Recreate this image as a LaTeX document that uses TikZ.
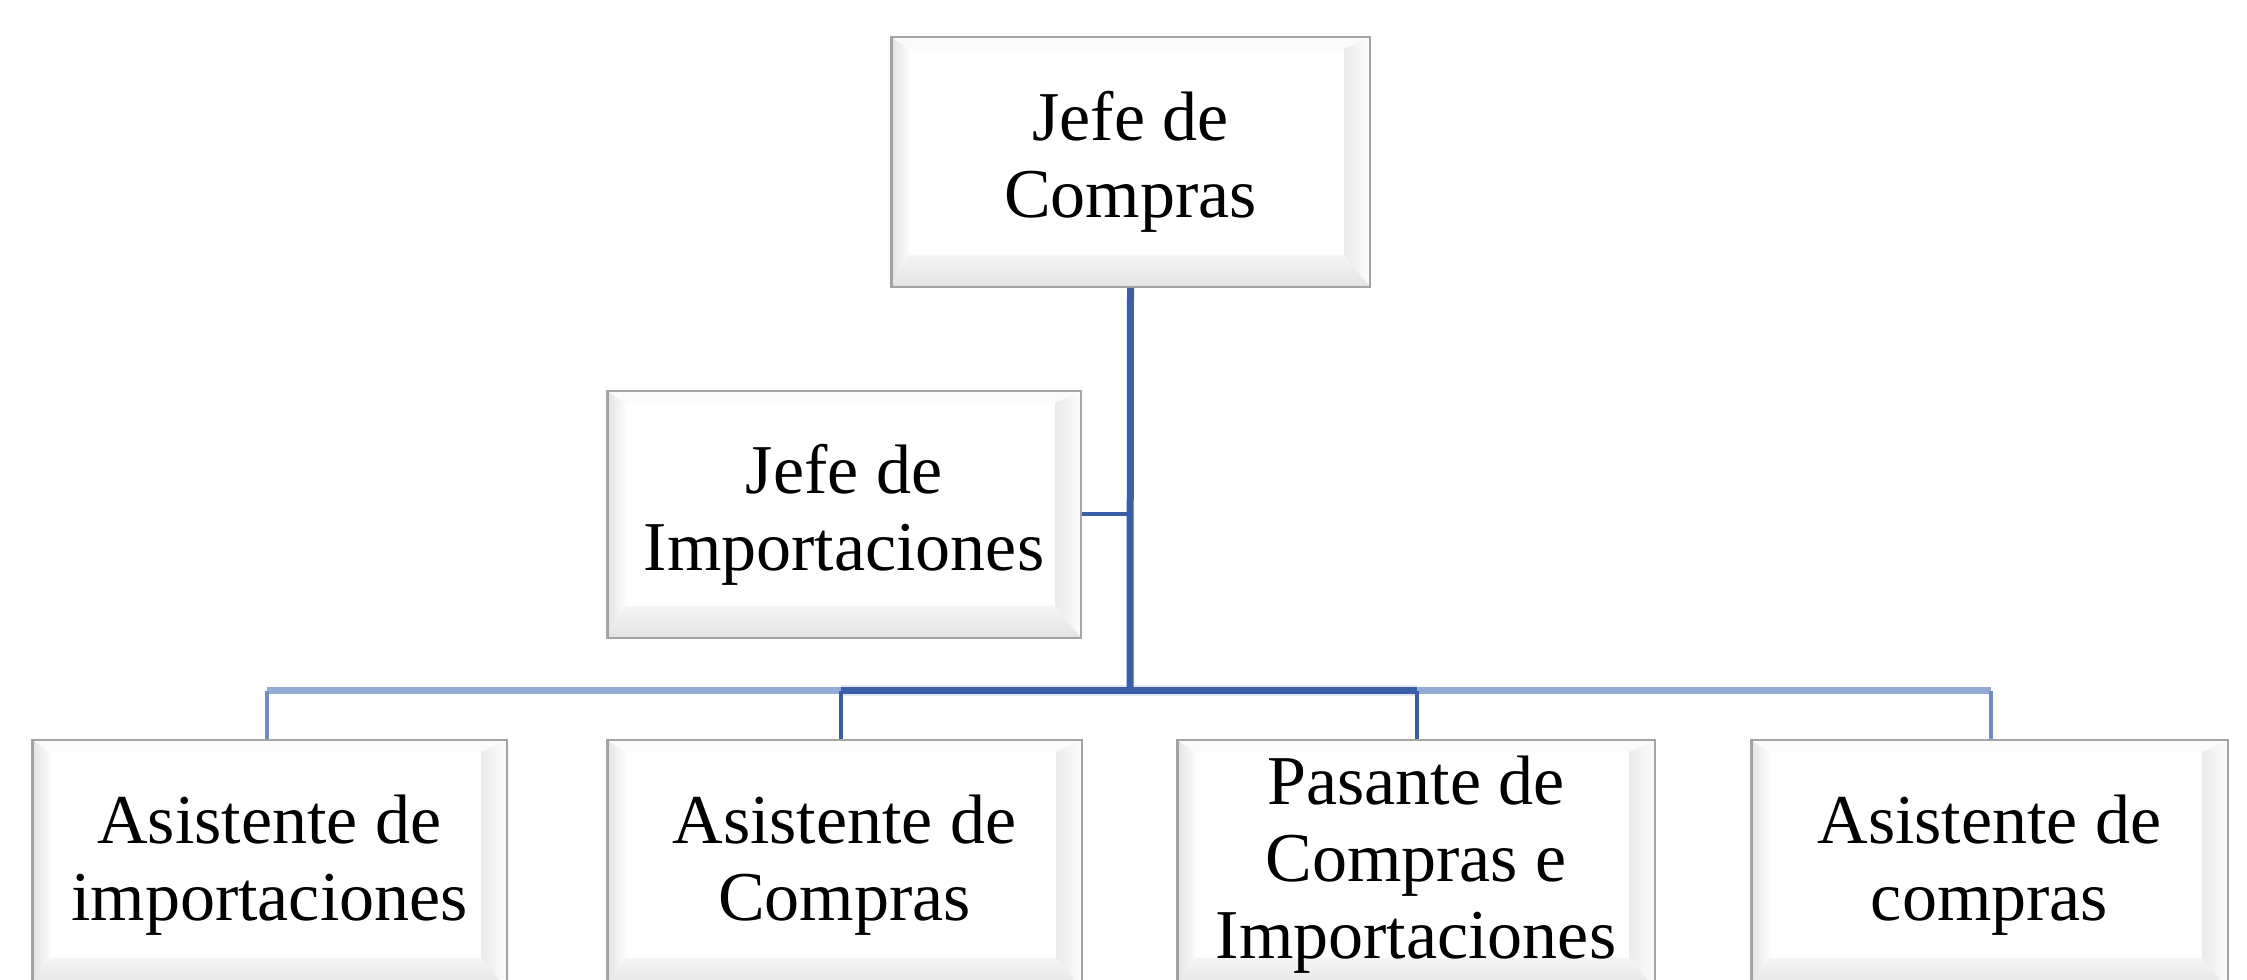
\documentclass[tikz,border=0pt]{standalone}
\usepackage{fontspec}
\setmainfont{Liberation Serif}
\definecolor{linedark}{HTML}{3A5FA8}
\definecolor{linemid}{HTML}{6F8CC4}
\definecolor{linelight}{HTML}{94ABD4}
\definecolor{boxborder}{HTML}{A4A4A4}
\tikzset{
  bevelbox/.style={rectangle, fill=white, draw=boxborder, line width=2pt,
    minimum height=250pt, inner sep=0pt, align=center,
    font=\fontsize{70}{77}\selectfont,
    execute at begin node={\rule{0pt}{60pt}},
    path picture={
      \fill[gray!3] (path picture bounding box.north west) -- (path picture bounding box.north east)
        -- ([shift={(-26,-12)}]path picture bounding box.north east)
        -- ([shift={(18,-12)}]path picture bounding box.north west) -- cycle;
      \shade[left color=gray!22, right color=gray!3] (path picture bounding box.north west)
        -- ([shift={(18,-12)}]path picture bounding box.north west)
        -- ([shift={(18,32)}]path picture bounding box.south west)
        -- (path picture bounding box.south west) -- cycle;
      \shade[left color=gray!16, right color=gray!2] (path picture bounding box.north east)
        -- (path picture bounding box.south east)
        -- ([shift={(-26,32)}]path picture bounding box.south east)
        -- ([shift={(-26,-12)}]path picture bounding box.north east) -- cycle;
      \shade[top color=gray!8, bottom color=gray!22] (path picture bounding box.south west)
        -- ([shift={(18,32)}]path picture bounding box.south west)
        -- ([shift={(-26,32)}]path picture bounding box.south east)
        -- (path picture bounding box.south east) -- cycle;
      \draw[gray!75, line width=3pt] (path picture bounding box.south west) -- (path picture bounding box.north west);
    }},
  darkline/.style={draw=linedark, line width=#1},
  lightline/.style={draw=linelight, line width=#1},
  midline/.style={draw=linemid, line width=#1}
}
\begin{document}
\begin{tikzpicture}[x=1pt,y=1pt]
  \useasboundingbox (0,0) rectangle (2247,980);
  \fill[white] (0,0) rectangle (2247,980);
  \clip (0,0) rectangle (2247,980);

  \node[bevelbox, minimum width=479pt] (top) at (1130.5,818) {Jefe de\\Compras};
  \node[bevelbox, minimum width=474pt, minimum height=247pt] (imp) at (844,465.5) {Jefe de\\Importaciones};
  \node[bevelbox, minimum width=475pt] (a1) at (269.5,115) {Asistente de\\importaciones};
  \node[bevelbox, minimum width=475pt] (a2) at (844.5,115) {Asistente de\\Compras};
  \node[bevelbox, minimum width=478pt] (a3) at (1416,115) {Pasante de\\Compras e\\Importaciones};
  \node[bevelbox, minimum width=477pt] (a4) at (1989.5,115) {Asistente de\\compras};

  \coordinate (bus) at (1130,289);
  \coordinate (b1) at (267,289);
  \coordinate (b2) at (841,289);
  \coordinate (b3) at (1417,289);
  \coordinate (b4) at (1991,289);

  % bus
  \draw[lightline=7pt] (b1) -- (b2);
  \draw[lightline=7pt] (b3) -- (b4);
  \draw[draw=linedark!15, line width=11pt] (b2) -- (b3);
  \draw[darkline=7pt] (b2) -- (b3);
  % branches
  \draw[midline=4pt] (b1) -- (b1 |- a1.north);
  \draw[darkline=4pt] (b2) -- (b2 |- a2.north);
  \draw[darkline=4pt] (b3) -- (b3 |- a3.north);
  \draw[midline=4pt] (b4) -- (b4 |- a4.north);
  % main
  \draw[darkline=7pt] (top.south) -- (bus);
  \draw[darkline=4pt] (imp.east) -- (imp.east -| top.south);
\end{tikzpicture}
\end{document}
